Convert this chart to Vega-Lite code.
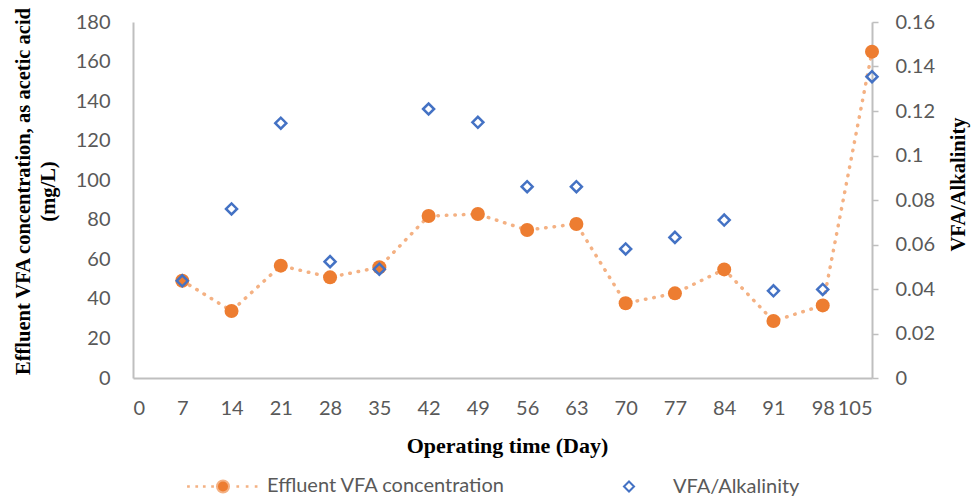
{
  "$schema": "https://vega.github.io/schema/vega-lite/v6.json",
  "autosize": {"type": "none"},
  "padding": {"left": 133, "top": 22, "right": 99, "bottom": 121},
  "width": 739,
  "height": 356,
  "background": "white",
  "config": {
    "view": {"stroke": null},
    "axis": {
      "grid": false,
      "labelFont": "Lato",
      "labelFontSize": 20,
      "labelColor": "#595959",
      "domainColor": "#BFBFBF",
      "domainWidth": 2,
      "tickColor": "#BFBFBF",
      "tickWidth": 1.5,
      "titleFont": "Liberation Serif",
      "titleFontWeight": "bold",
      "titleFontSize": 20.5,
      "titleColor": "#000000"
    }
  },
  "data": {
    "values": [
      {"day": 7, "vfa": 49.2, "ratio": 0.0437},
      {"day": 14, "vfa": 33.9, "ratio": 0.076},
      {"day": 21, "vfa": 56.8, "ratio": 0.1145},
      {"day": 28, "vfa": 50.9, "ratio": 0.0523},
      {"day": 35, "vfa": 56.0, "ratio": 0.0489},
      {"day": 42, "vfa": 81.9, "ratio": 0.1209},
      {"day": 49, "vfa": 82.9, "ratio": 0.1149},
      {"day": 56, "vfa": 74.8, "ratio": 0.086},
      {"day": 63, "vfa": 77.9, "ratio": 0.086},
      {"day": 70, "vfa": 37.8, "ratio": 0.058},
      {"day": 77, "vfa": 42.8, "ratio": 0.0632},
      {"day": 84, "vfa": 54.9, "ratio": 0.071},
      {"day": 91, "vfa": 28.8, "ratio": 0.0392},
      {"day": 98, "vfa": 36.7, "ratio": 0.0398},
      {"day": 105, "vfa": 165.0, "ratio": 0.1354}
    ]
  },
  "encoding": {
    "x": {
      "field": "day",
      "type": "quantitative",
      "scale": {"domain": [0, 105], "nice": false, "zero": false},
      "axis": {
        "values": [0, 7, 14, 21, 28, 35, 42, 49, 56, 63, 70, 77, 84, 91, 98, 105],
        "ticks": false,
        "tickSize": 0,
        "labelPadding": 20,
        "labelBaseline": "top",
        "title": "Operating time (Day)",
        "titleX": 374,
        "titleY": 67,
        "titleBaseline": "middle",
        "titleFontSize": 22
      }
    }
  },
  "layer": [
    {
      "mark": {"type": "line", "color": "#F4B183", "strokeWidth": 3.5, "strokeDash": [0.5, 8], "strokeCap": "round"},
      "encoding": {
        "y": {
          "field": "vfa",
          "type": "quantitative",
          "scale": {"domain": [0, 180], "nice": false},
          "axis": {
            "orient": "left",
            "values": [0, 20, 40, 60, 80, 100, 120, 140, 160, 180],
            "ticks": false,
            "tickSize": 0,
            "labelPadding": 23,
            "title": ["Effluent VFA concentration, as acetic acid", "(mg/L)"],
            "titleAngle": 270,
            "titleAlign": "center",
            "titleBaseline": "top",
            "titleLineHeight": 25,
            "titleX": -120,
            "titleY": 169
          }
        }
      }
    },
    {
      "mark": {"type": "point", "shape": "circle", "filled": true, "color": "#ED7D31", "size": 196, "opacity": 1},
      "encoding": {
        "y": {"field": "vfa", "type": "quantitative", "scale": {"domain": [0, 180], "nice": false}, "axis": null}
      }
    },
    {
      "mark": {"type": "point", "shape": "diamond", "filled": false, "color": "#4472C4", "strokeWidth": 2.5, "size": 121, "opacity": 1},
      "encoding": {
        "y": {
          "field": "ratio",
          "type": "quantitative",
          "scale": {"domain": [0, 0.16], "nice": false},
          "axis": {
            "orient": "right",
            "values": [0, 0.02, 0.04, 0.06, 0.08, 0.1, 0.12, 0.14, 0.16],
            "format": "~g",
            "tickSize": 6,
            "labelPadding": 17,
            "title": "VFA/Alkalinity",
            "titleAngle": 270,
            "titleAlign": "center",
            "titleBaseline": "middle",
            "titleX": 86,
            "titleY": 162
          }
        }
      }
    },
    {
      "transform": [{"filter": "datum.day < 0"}],
      "mark": {"type": "point", "opacity": 1, "size": 5184, "strokeWidth": 2},
      "encoding": {
        "fill": {
          "field": "series",
          "type": "nominal",
          "scale": {"domain": ["Effluent VFA concentration", "VFA/Alkalinity"], "range": ["#ED7D31", "rgba(0,0,0,0)"]},
          "legend": {
            "title": null,
            "orient": "none",
            "legendX": 53,
            "legendY": 427,
            "direction": "horizontal",
            "columnPadding": 86,
            "labelOffset": 7,
            "labelFont": "Lato",
            "labelFontSize": 20,
            "labelColor": "#595959",
            "labelLimit": 400,
            "symbolSize": 5184,
            "symbolStrokeWidth": 2,
            "padding": 0
          }
        },
        "stroke": {
          "field": "series",
          "type": "nominal",
          "scale": {"domain": ["Effluent VFA concentration", "VFA/Alkalinity"], "range": ["#F4B183", "#4472C4"]}
        },
        "shape": {
          "field": "series",
          "type": "nominal",
          "scale": {
            "domain": ["Effluent VFA concentration", "VFA/Alkalinity"],
            "range": [
              "M-0.97,-0.01h0.02v0.02h-0.02Z M-0.74,-0.01h0.02v0.02h-0.02Z M-0.53,-0.01h0.02v0.02h-0.02Z M-0.3,-0.01h0.02v0.02h-0.02Z M-0.167,0A0.167,0.167,0,1,0,0.167,0A0.167,0.167,0,1,0,-0.167,0Z M0.4,-0.01h0.02v0.02h-0.02Z M0.66,-0.01h0.02v0.02h-0.02Z M0.91,-0.01h0.02v0.02h-0.02Z",
              "M0,-0.14L0.14,0L0,0.14L-0.14,0Z"
            ]
          }
        }
      }
    }
  ],
  "resolve": {"scale": {"y": "independent"}}
}
